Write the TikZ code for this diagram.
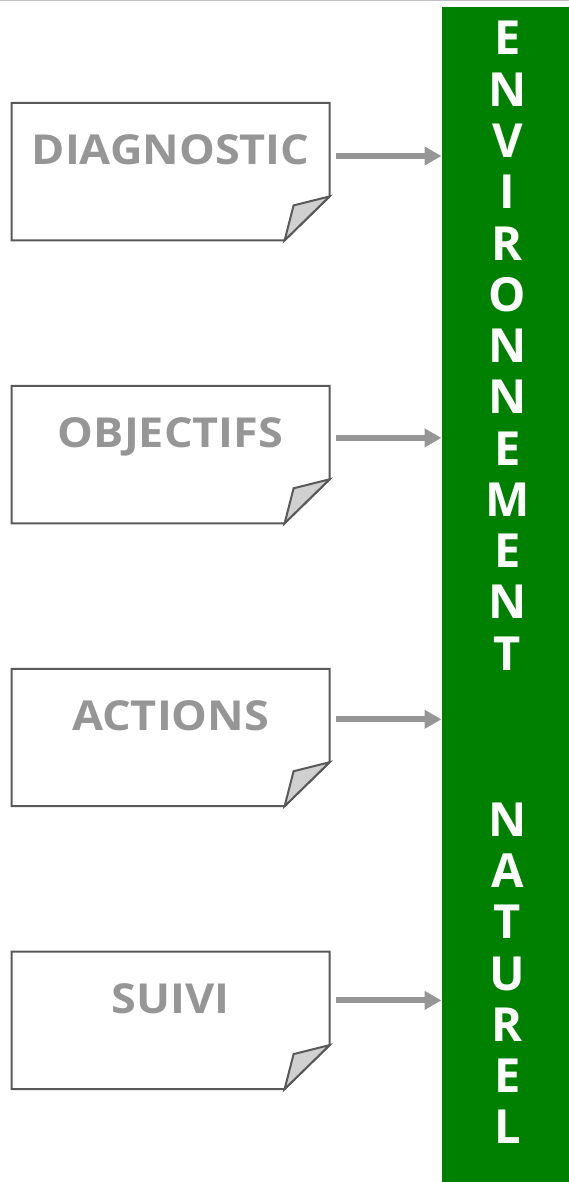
\documentclass[tikz,border=0pt]{standalone}
\usepackage{fontspec}
\usetikzlibrary{arrows.meta,positioning,calc}
\newfontfamily\notefont[FakeStretch=1.09]{Open Sans}
\newfontfamily\barfont{Open Sans}
\definecolor{labelgray}{HTML}{969696}
\definecolor{edgegray}{HTML}{595959}
\definecolor{foldgray}{HTML}{D0D0D0}
\definecolor{milieugreen}{HTML}{008000}
\definecolor{rulegray}{HTML}{C0C0C0}
\tikzset{
  notebox/.style={
    anchor=north west,
    minimum width=317.5pt,
    minimum height=137pt,
    inner sep=0pt,
    text height=29.5pt,
    text depth=43pt,
    text=labelgray,
    font=\notefont\bfseries\fontsize{41.3}{41.3}\selectfont
  },
  noteedge/.style={draw=edgegray,line width=2pt},
  milieubar/.style={
    anchor=north west,
    fill=milieugreen,
    minimum width=128pt,
    minimum height=1176pt,
    inner sep=0pt
  },
  barletter/.style={
    anchor=base,
    inner sep=0pt,
    text=white,
    font=\barfont\bfseries\fontsize{47}{47}\selectfont
  },
  envarrow/.style={-{Triangle[length=17pt,width=18pt]},line width=6pt,draw=labelgray}
}

\begin{document}
\begin{tikzpicture}[x=1pt,y=-1pt]
  \useasboundingbox (0,0) rectangle (569,1182);
  \draw[rulegray,line width=1.5pt] (0,0.75) -- (569,0.75);
  % steps on the left
  \node[notebox] (diag) at (11.7,103) {DIAGNOSTIC};
  \node[notebox,below=145.5pt of diag] (obj) {OBJECTIFS};
  \node[notebox,below=145.5pt of obj] (act) {ACTIONS};
  \node[notebox,below=145.5pt of act] (suivi) {SUIVI};
  \foreach \n in {diag,obj,act,suivi}{
    \draw[noteedge] (\n.north west) -- (\n.north east) -- ($(\n.south east)+(0,-44)$)
      -- ($(\n.south east)+(-45,0)$) -- (\n.south west) -- cycle;
    \draw[noteedge,fill=foldgray] ($(\n.south east)+(0,-44)$) -- ($(\n.south east)+(-36,-35)$)
      -- ($(\n.south east)+(-45,0)$) -- cycle;
  }
  % green bar
  \node[milieubar] (milieu) at (441.5,7) {};
  \foreach \ch [count=\i from 0] in {E,N,V,I,R,O,N,N,E,M,E,N,T}
    \node[barletter] (env\i) at (507.5,55+51.25*\i) {\ch};
  \foreach \ch [count=\i from 0] in {N,A,T,U,R,E,L}
    \node[barletter] (nat\i) at (507.5,836.5+51.2*\i) {\ch};
  % arrows
  \foreach \n/\dy in {diag/53,obj/52,act/50.5,suivi/48.7}{
    \coordinate (\n out) at ($(\n.north east)+(6,\dy)$);
    \draw[envarrow] (\n out) -- (\n out -| milieu.west);
  }
\end{tikzpicture}
\end{document}
